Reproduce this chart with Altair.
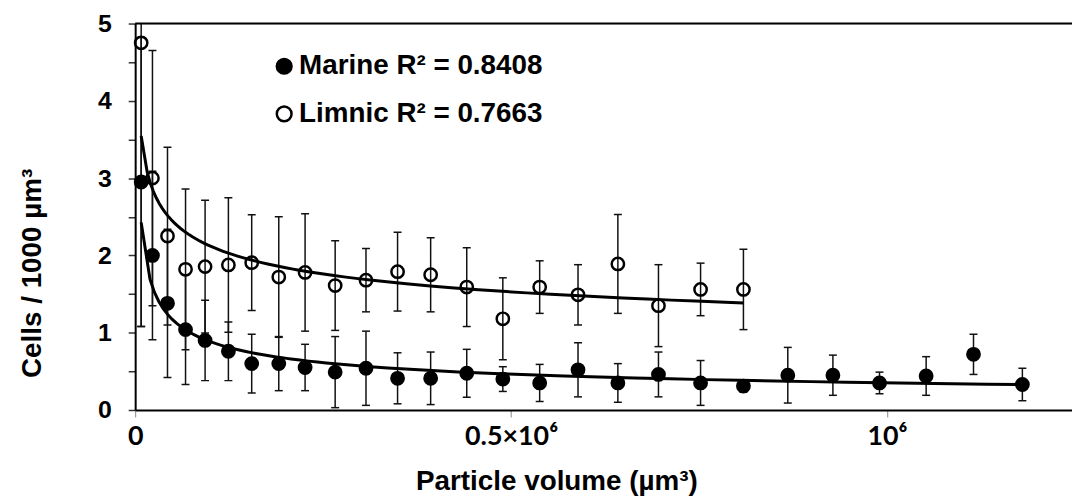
import altair as alt
import pandas as pd

# ---- data ----
volume = [8000, 23000, 43000, 67000, 93000, 124000, 155000, 191000, 226000,
          266000, 307000, 349000, 393000, 441000, 489000, 538000, 589000,
          642000, 696000, 752000, 809000, 868000, 928000, 990000, 1052000,
          1115000, 1180000]
marine_cells = [2.95, 2.00, 1.38, 1.04, 0.90, 0.76, 0.60, 0.60, 0.55, 0.49,
                0.54, 0.41, 0.41, 0.475, 0.40, 0.35, 0.52, 0.35, 0.46, 0.35,
                0.31, 0.45, 0.45, 0.35, 0.44, 0.72, 0.33]
marine_sd = [1.87, 1.09, 0.96, 0.71, 0.52, 0.38, 0.38, 0.35, 0.30, 0.46,
             0.48, 0.33, 0.34, 0.31, 0.16, 0.24, 0.35, 0.25, 0.29, 0.29,
             0.08, 0.36, 0.26, 0.14, 0.25, 0.26, 0.21]
limnic_cells = [4.75, 3.00, 2.25, 1.82, 1.855, 1.877, 1.906, 1.72, 1.78, 1.61,
                1.68, 1.79, 1.75, 1.59, 1.18, 1.59, 1.49, 1.89, 1.35, 1.56, 1.56]
limnic_sd = [3.67, 1.65, 1.15, 1.04, 0.86, 0.87, 0.62, 0.78, 0.76, 0.58,
             0.41, 0.51, 0.48, 0.51, 0.53, 0.34, 0.39, 0.64, 0.53, 0.34, 0.52]
series_names = ["Marine", "Limnic"]
r_squared = ["0.8408", "0.7663"]
x_tick_values = [0, 500000, 1000000]
x_tick_labels = ["0", "0.5×10⁶", "10⁶"]
y_tick_values = [0, 0.5, 1, 1.5, 2, 2.5, 3, 3.5, 4, 4.5, 5]

rows = []
for v, c, s in zip(volume, marine_cells, marine_sd):
    rows.append({"series": "Marine", "vol": v, "cells": c, "lo": c - s, "hi": c + s})
for v, c, s in zip(volume[:len(limnic_cells)], limnic_cells, limnic_sd):
    rows.append({"series": "Limnic", "vol": v, "cells": c, "lo": c - s, "hi": c + s})
df = pd.DataFrame(rows)

# ---- scales & axes ----
x_scale = alt.Scale(domain=[0, 1246000], nice=False, zero=False)
y_scale = alt.Scale(domain=[0, 5], nice=False)

x_label_expr = " : ".join(
    f"datum.value == {v} ? '{l}'" for v, l in zip(x_tick_values[:-1], x_tick_labels[:-1])
) + f" : '{x_tick_labels[-1]}'"

x_axis = alt.Axis(
    values=x_tick_values, labelExpr=x_label_expr, grid=False,
    title="Particle volume (µm³)", titleFont="Liberation Sans", titleFontSize=28,
    titleFontWeight="bold", titleColor="black", titleX=424, titleY=72,
    titleBaseline="middle", titleAlign="center",
    labelFont="Lato", labelFontSize=27, labelFontWeight="bold", labelColor="black",
    labelPadding=7, labelFlush=False,
    domainColor="black", domainWidth=2,
    tickColor="#888888", tickWidth=1, tickSize=7,
)
y_axis = alt.Axis(
    values=y_tick_values,
    labelExpr="datum.value % 1 == 0 ? format(datum.value, 'd') : ''",
    grid=False, title="Cells / 1000 µm³", titleFont="Liberation Sans",
    titleFontSize=28, titleFontWeight="bold", titleColor="black",
    titleAngle=270, titleX=-103, titleY=251, titleAlign="center",
    titleBaseline="middle",
    labelFont="Liberation Sans", labelFontSize=25, labelFontWeight="bold",
    labelColor="black", labelPadding=17, labelOverlap=False,
    domainColor="black", domainWidth=2,
    tickColor="#333333", tickWidth=1.5, tickSize=7,
)

label_expr = " : ".join(
    f"datum.label == '{n}' ? '{n} R² = {r}'" for n, r in zip(series_names[:-1], r_squared[:-1])
) + f" : '{series_names[-1]} R² = {r_squared[-1]}'"

X = alt.X("vol:Q", scale=x_scale, axis=x_axis)

base = alt.Chart(df)

bars = base.mark_rule(color="#111111", strokeWidth=1.5, clip=True).encode(
    x=X, y=alt.Y("lo:Q", scale=y_scale, axis=y_axis), y2="hi:Q"
)
caps_lo = base.mark_tick(orient="horizontal", size=8, thickness=1.5,
                         color="#111111", clip=True, opacity=1).encode(
    x=X, y=alt.Y("lo:Q", scale=y_scale, axis=y_axis)
)
caps_hi = base.mark_tick(orient="horizontal", size=8, thickness=1.5,
                         color="#111111", clip=True, opacity=1).encode(
    x=X, y=alt.Y("hi:Q", scale=y_scale, axis=y_axis)
)

fits = base.transform_regression(
    "vol", "cells", method="pow", groupby=["series"]
).mark_line(color="black", strokeWidth=3).encode(
    x=X, y=alt.Y("cells:Q", scale=y_scale, axis=y_axis), detail="series:N"
)

points = base.mark_point(shape="circle", filled=True, size=154, stroke="black",
                         strokeWidth=2.5, opacity=1).encode(
    x=X,
    y=alt.Y("cells:Q", scale=y_scale, axis=y_axis),
    fill=alt.Fill(
        "series:N",
        scale=alt.Scale(domain=series_names, range=["black", "transparent"]),
        legend=alt.Legend(
            orient="none", legendX=136, legendY=29, title=None,
            labelExpr=label_expr, labelFont="Liberation Sans", labelLimit=500,
            labelFontSize=28, labelFontWeight="bold", labelColor="black",
            symbolType="circle", symbolSize=220, symbolStrokeColor="black",
            symbolStrokeWidth=2.5, labelOffset=1, rowPadding=20, padding=0,
        ),
    ),
)

top_line = alt.Chart(pd.DataFrame({"top": [5]})).mark_rule(
    color="black", strokeWidth=2
).encode(y=alt.Y("top:Q", scale=y_scale, axis=y_axis))

chart = alt.layer(bars, caps_lo, caps_hi, fits, points, top_line).properties(
    width=943, height=389,
    autosize=alt.AutoSizeParams(type="none"),
    padding={"left": 128, "top": 14, "right": 0, "bottom": 96},
).configure_view(stroke=None).configure(background="white")

chart.save("out.html", embed_options={"renderer": "svg", "actions": False})
